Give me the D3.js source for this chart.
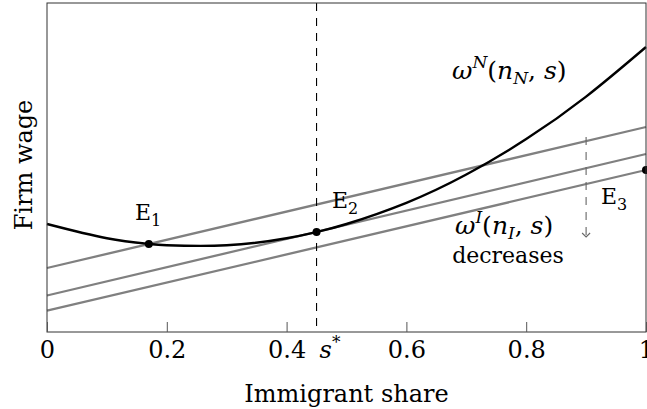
<!DOCTYPE html>
<html>
<head>
<meta charset="utf-8">
<script src="https://cdn.jsdelivr.net/npm/d3@7"></script>
<style>
  body { margin: 0; background: #fff; }
  svg text { font-family: "DejaVu Serif", serif; }
</style>
</head>
<body>
<div class="chart"></div>
<script>
const width = 647;
const height = 409;
const serif = "'DejaVu Serif', serif";

// x ticks and the special share s*
const sTicks = [0, 0.2, 0.4, 0.6, 0.8, 1];
const sStar = 0.45;

// native wage curve omega^N
const curveS = [0, 0.1, 0.17, 0.2, 0.3, 0.4, 0.45, 0.5, 0.6, 0.7, 0.8, 0.9, 1];
const curveW = [1.08, 0.938, 0.881, 0.868, 0.867, 0.938, 1.0, 1.08, 1.292, 1.575, 1.929, 2.354, 2.85];

// immigrant wage lines omega^I, value at s=0 and s=1
const lineStart = [0.64, 0.365, 0.213];
const lineEnd = [2.05, 1.78, 1.62];

// equilibria
const eqNames = ["1", "2", "3"];
const eqS = [0.17, 0.45, 1.0];
const eqW = [0.881, 1.0, 1.62];

// dashed "decreases" arrow
const arrowS = 0.9;
const arrowW = [1.95, 0.95];

const x = d3.scaleLinear().domain([0, 1]).range([47, 646]);
const y = d3.scaleLinear().domain([0, 3.29]).range([332, 3]);

const svg = d3.select(".chart")
  .append("svg")
  .attr("width", width)
  .attr("height", height)
  .attr("font-family", serif);

// gray omega^I lines
svg.append("g")
  .selectAll("line")
  .data(lineStart)
  .enter()
  .append("line")
  .attr("x1", x(0))
  .attr("y1", (d) => y(d))
  .attr("x2", x(1))
  .attr("y2", (d, i) => y(lineEnd[i]))
  .attr("stroke", "#808080")
  .attr("stroke-width", 2.3);

// omega^N curve
const pts = curveS.map((s, i) => [s, curveW[i]]);
svg.append("path")
  .datum(pts)
  .attr("fill", "none")
  .attr("stroke", "#000")
  .attr("stroke-width", 2.4)
  .attr("d", d3.line().x((d) => x(d[0])).y((d) => y(d[1])).curve(d3.curveNatural));

// s* dashed line
svg.append("line")
  .attr("x1", x(sStar)).attr("x2", x(sStar))
  .attr("y1", y.range()[1]).attr("y2", y.range()[0])
  .attr("stroke", "#000")
  .attr("stroke-width", 1.1)
  .attr("stroke-dasharray", "8,7");

// decreases arrow
svg.append("line")
  .attr("x1", x(arrowS)).attr("x2", x(arrowS))
  .attr("y1", y(arrowW[0])).attr("y2", y(arrowW[1]))
  .attr("stroke", "#666")
  .attr("stroke-width", 1.1)
  .attr("stroke-dasharray", "8,7");
svg.append("path")
  .attr("d", `M${x(arrowS) - 4},${y(arrowW[1]) - 4} L${x(arrowS)},${y(arrowW[1])} L${x(arrowS) + 4},${y(arrowW[1]) - 4}`)
  .attr("fill", "none")
  .attr("stroke", "#666")
  .attr("stroke-width", 1.1);

// equilibrium dots
svg.append("g")
  .selectAll("circle")
  .data(eqS)
  .enter()
  .append("circle")
  .attr("cx", (d) => x(d))
  .attr("cy", (d, i) => y(eqW[i]))
  .attr("r", 4)
  .attr("fill", "#000");

// frame
svg.append("rect")
  .attr("x", x(0)).attr("y", y.range()[1])
  .attr("width", x(1) - x(0)).attr("height", y.range()[0] - y.range()[1])
  .attr("fill", "none")
  .attr("stroke", "#333")
  .attr("stroke-width", 1);

// bottom axis, ticks pointing inward
const axis = svg.append("g")
  .attr("transform", `translate(0,${y.range()[0]})`)
  .call(d3.axisBottom(x).tickValues(sTicks).tickSizeInner(-10).tickSizeOuter(0)
    .tickFormat((d) => d3.format("")(d)));
axis.attr("font-family", serif);
axis.select(".domain").remove();
axis.selectAll(".tick line").attr("stroke", "#555").attr("stroke-width", 1);
axis.selectAll(".tick text")
  .attr("y", 26).attr("dy", 0)
  .attr("font-size", 24)
  .attr("fill", "#000");

// s* label
svg.append("text")
  .attr("x", x(sStar) + 3).attr("y", 358)
  .attr("font-size", 24)
  .html('<tspan font-style="italic">s</tspan><tspan dy="-10" font-size="17">*</tspan>');

// axis titles
svg.append("text")
  .attr("x", (x(0) + x(1)) / 2).attr("y", 402)
  .attr("text-anchor", "middle")
  .attr("font-size", 24)
  .text("Immigrant share");

svg.append("text")
  .attr("transform", "translate(32,165) rotate(-90)")
  .attr("text-anchor", "middle")
  .attr("font-size", 24)
  .text("Firm wage");

// equilibrium labels
const eqLabelPos = [[135, 220], [332, 208], [601, 204]];
svg.append("g")
  .selectAll("text")
  .data(eqNames)
  .enter()
  .append("text")
  .attr("x", (d, i) => eqLabelPos[i][0])
  .attr("y", (d, i) => eqLabelPos[i][1])
  .attr("font-size", 22)
  .html((d) => `E<tspan dy="6" font-size="16">${d}</tspan>`);

// omega labels
svg.append("text")
  .attr("x", 452).attr("y", 79)
  .attr("font-size", 25)
  .html('<tspan font-style="italic">ω</tspan><tspan dy="-11" font-size="17" font-style="italic">N</tspan>' +
        '<tspan dy="11">(</tspan><tspan font-style="italic">n</tspan>' +
        '<tspan dy="5" font-size="17" font-style="italic">N</tspan><tspan dy="-5">, </tspan>' +
        '<tspan font-style="italic">s</tspan>)');

svg.append("text")
  .attr("x", 455).attr("y", 234)
  .attr("font-size", 25)
  .html('<tspan font-style="italic">ω</tspan><tspan dy="-11" font-size="17" font-style="italic">I</tspan>' +
        '<tspan dy="11">(</tspan><tspan font-style="italic">n</tspan>' +
        '<tspan dy="5" font-size="17" font-style="italic">I</tspan><tspan dy="-5">, </tspan>' +
        '<tspan font-style="italic">s</tspan>)');

svg.append("text")
  .attr("x", 508).attr("y", 263)
  .attr("text-anchor", "middle")
  .attr("font-size", 22)
  .text("decreases");
</script>
</body>
</html>
